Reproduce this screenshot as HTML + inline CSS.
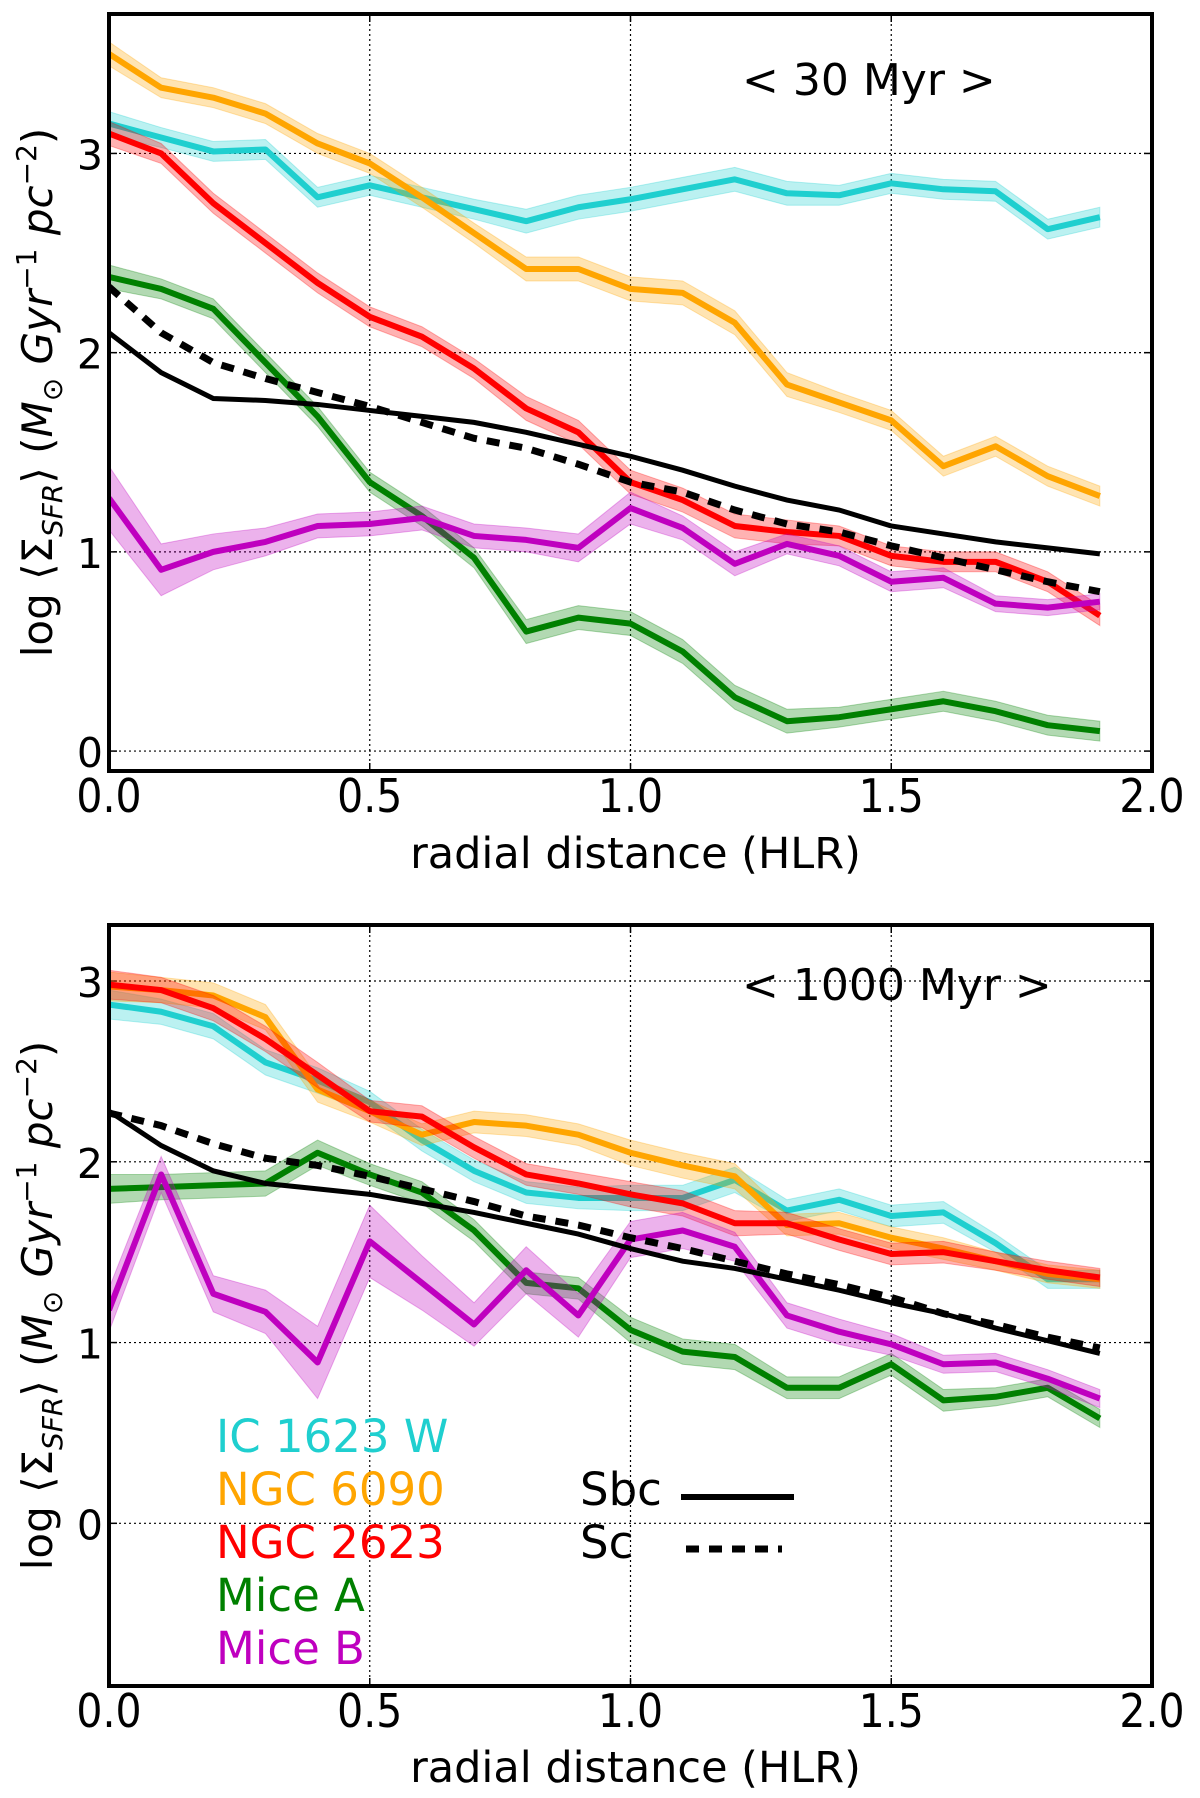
<!DOCTYPE html>
<html><head><meta charset="utf-8"><style>
html,body{margin:0;padding:0;background:#fff}
svg{display:block}
text{font-family:"DejaVu Sans","Liberation Sans",sans-serif}
</style></head><body>
<svg id="fig" width="1200" height="1798" viewBox="0 0 1200 1798" xmlns="http://www.w3.org/2000/svg"></svg>
<script>
const xs=[0,0.1,0.2,0.3,0.4,0.5,0.6,0.7,0.8,0.9,1.0,1.1,1.2,1.3,1.4,1.5,1.6,1.7,1.8,1.9];
const xTicks=[0,0.5,1.0,1.5,2.0];
const xTickLabels=["0.0","0.5","1.0","1.5","2.0"];
const yTicks=[0,1,2,3];
const seriesNames=["IC 1623 W","NGC 6090","NGC 2623","Mice A","Mice B"];
const seriesColors=["#1fcfcf","#ffa500","#ff0000","#008000","#bf00bf"];
// top panel (<30 Myr)
const topCyan=[3.15,3.08,3.01,3.02,2.78,2.84,2.78,2.72,2.66,2.73,2.77,2.82,2.87,2.80,2.79,2.85,2.82,2.81,2.62,2.68];
const topOrange=[3.5,3.33,3.28,3.2,3.05,2.95,2.78,2.6,2.42,2.42,2.32,2.30,2.15,1.84,1.75,1.66,1.43,1.53,1.38,1.28];
const topRed=[3.1,3.0,2.75,2.55,2.35,2.18,2.08,1.92,1.72,1.6,1.35,1.26,1.13,1.10,1.08,0.98,0.95,0.95,0.85,0.68];
const topGreen=[2.38,2.32,2.22,1.95,1.68,1.35,1.18,0.97,0.6,0.67,0.64,0.5,0.27,0.15,0.17,0.21,0.25,0.2,0.13,0.1];
const topMagenta=[1.27,0.91,1.0,1.05,1.13,1.14,1.17,1.08,1.06,1.02,1.22,1.12,0.94,1.04,0.98,0.85,0.87,0.74,0.72,0.75];
const topErr=[0.06,0.05,0.05,0.05,0.05,0.05,0.05,0.05,0.06,0.06,0.06,0.06,0.06,0.06,0.05,0.05,0.05,0.05,0.05,0.05];
const topMagErr=[0.16,0.13,0.09,0.07,0.06,0.06,0.06,0.06,0.06,0.07,0.08,0.06,0.06,0.05,0.05,0.05,0.05,0.04,0.04,0.04];
const topSbc=[2.1,1.9,1.77,1.76,1.74,1.71,1.68,1.65,1.60,1.54,1.48,1.41,1.33,1.26,1.21,1.13,1.09,1.05,1.02,0.99];
const topSc=[2.33,2.1,1.95,1.87,1.8,1.73,1.65,1.57,1.52,1.44,1.35,1.3,1.21,1.14,1.1,1.03,0.97,0.91,0.85,0.8];
// bottom panel (<1000 Myr)
const botCyan=[2.87,2.83,2.75,2.55,2.45,2.33,2.12,1.95,1.83,1.8,1.8,1.8,1.9,1.73,1.79,1.7,1.72,1.55,1.35,1.35];
const botOrange=[2.97,2.95,2.92,2.8,2.4,2.28,2.15,2.22,2.2,2.15,2.05,1.98,1.92,1.65,1.66,1.58,1.52,1.45,1.38,1.35];
const botRed=[2.98,2.95,2.85,2.68,2.48,2.28,2.25,2.08,1.93,1.88,1.82,1.77,1.66,1.66,1.57,1.49,1.5,1.45,1.4,1.36];
const botGreen=[1.85,1.86,1.87,1.88,2.05,1.93,1.83,1.62,1.33,1.3,1.07,0.95,0.92,0.75,0.75,0.88,0.68,0.7,0.75,0.58];
const botMagenta=[1.18,1.93,1.27,1.17,0.89,1.56,1.33,1.1,1.4,1.15,1.57,1.62,1.53,1.15,1.06,0.99,0.88,0.89,0.8,0.69];
const botErr=[0.08,0.07,0.07,0.07,0.07,0.06,0.06,0.06,0.06,0.06,0.07,0.07,0.07,0.06,0.06,0.06,0.06,0.05,0.05,0.05];
const botMagErr=[0.12,0.1,0.1,0.12,0.2,0.2,0.15,0.12,0.13,0.12,0.1,0.1,0.08,0.07,0.07,0.06,0.05,0.05,0.05,0.05];
const botSbc=[2.28,2.09,1.95,1.88,1.85,1.82,1.77,1.72,1.66,1.6,1.52,1.45,1.41,1.35,1.29,1.22,1.16,1.08,1.01,0.94];
const botSc=[2.27,2.2,2.1,2.02,1.98,1.92,1.85,1.78,1.7,1.65,1.58,1.52,1.45,1.38,1.32,1.25,1.16,1.1,1.03,0.97];

const NS="http://www.w3.org/2000/svg";
const svg=document.getElementById('fig');
function el(tag,attrs,parent,txt){const e=document.createElementNS(NS,tag);for(const k in attrs)e.setAttribute(k,attrs[k]);if(txt!==undefined)e.textContent=txt;(parent||svg).appendChild(e);return e;}

function panel(cfg){
  const L=109,R=1152,T=cfg.top,B=cfg.bottom;
  const g=el('g',{});
  
  
  const sx=v=>L+(v-0)/(2-0)*(R-L);
  const sy=v=>B-(v-cfg.ymin)/(cfg.ymax-cfg.ymin)*(B-T);
  xTicks.forEach((t,i)=>{
    if(i>0&&i<xTicks.length-1){const l=el('line',{x1:sx(t),x2:sx(t),y1:T,y2:B,stroke:'#000','stroke-width':1.2,'stroke-dasharray':'2,3'},g);
    }
    const tx=el('text',{x:sx(t),y:cfg.xlabY,'font-size':41,'text-anchor':'middle',transform:'translate(0,'+cfg.xlabY+') scale(1,1.12) translate(0,'+(-cfg.xlabY)+')'},g,xTickLabels[i]);
    
  });
  yTicks.forEach(t=>{
    const l=el('line',{x1:L,x2:R,y1:sy(t),y2:sy(t),stroke:'#000','stroke-width':1.2,'stroke-dasharray':'2,3'},g);
    
    const tx=el('text',{x:103,y:sy(t)+16,'font-size':41,'text-anchor':'end'},g,String(t));
    
    el('line',{x1:L,x2:L+8,y1:sy(t),y2:sy(t),stroke:'#000','stroke-width':1.5},g);
    el('line',{x1:R-8,x2:R,y1:sy(t),y2:sy(t),stroke:'#000','stroke-width':1.5},g);
  });
  const clipId='clip'+cfg.name;
  const cp=el('clipPath',{id:clipId},g);el('rect',{x:L,y:T,width:R-L,height:B-T},cp);
  const plot=el('g',{'clip-path':'url(#'+clipId+')'},g);
  cfg.series.forEach((s,i)=>{
    let up=xs.map((x,j)=>sx(x)+','+sy(s.v[j]+s.e[j])).join(' ');
    let dn=xs.map((x,j)=>sx(x)+','+sy(s.v[j]-s.e[j])).reverse().join(' ');
    const band=el('polygon',{points:up+' '+dn,fill:seriesColors[i],'fill-opacity':0.3,stroke:seriesColors[i],'stroke-opacity':0.3,'stroke-width':1},plot);
    
    
    const ln=el('polyline',{points:xs.map((x,j)=>sx(x)+','+sy(s.v[j])).join(' '),fill:'none',stroke:seriesColors[i],'stroke-width':6,'stroke-linejoin':'round'},plot);
    
    
  });
  const sbc=el('polyline',{points:xs.map((x,j)=>sx(x)+','+sy(cfg.sbc[j])).join(' '),fill:'none',stroke:'#000','stroke-width':5},plot);
  
  const sc=el('polyline',{points:xs.map((x,j)=>sx(x)+','+sy(cfg.sc[j])).join(' '),fill:'none',stroke:'#000','stroke-width':7,'stroke-dasharray':'13,10'},plot);
  
  xTicks.forEach(t=>{el('line',{x1:sx(t),x2:sx(t),y1:B,y2:B-8,stroke:'#000','stroke-width':1.5},g);el('line',{x1:sx(t),x2:sx(t),y1:T,y2:T+8,stroke:'#000','stroke-width':1.5},g);});
  const fr=el('rect',{x:L,y:T,width:R-L,height:B-T,fill:'none',stroke:'#000','stroke-width':4},g);
  
  const ti=el('text',{x:742,y:cfg.titleY,'font-size':44},g,cfg.title);
  
  const xl=el('text',{x:(L+R)/2+5,y:cfg.xtitleY,'font-size':43,'text-anchor':'middle'},g,'radial distance (HLR)');
  
  const cy=(T+B)/2;
  const yl=el('text',{x:0,y:0,transform:'translate(52,'+cy+') rotate(-90)','font-size':42,'text-anchor':'middle','font-family':'"DejaVu Serif","Liberation Serif",serif'},g);
  
  yl.innerHTML='log ⟨Σ<tspan font-style="italic" font-size="28" dy="10">SFR</tspan><tspan dy="-10">⟩ (</tspan><tspan font-style="italic">M</tspan><tspan font-size="28" dy="10">⊙</tspan><tspan dy="-10"> </tspan><tspan font-style="italic">Gyr</tspan><tspan font-size="28" dy="-16">−1</tspan><tspan dy="16">  </tspan><tspan font-style="italic">pc</tspan><tspan font-size="28" dy="-16">−2</tspan><tspan dy="16">)</tspan>';
  return {g,sx,sy};
}
panel({name:'panel-30myr',top:14,bottom:771,ymin:-0.1,ymax:3.7,xlabY:812,xtitleY:868,titleY:95,title:'< 30 Myr >',
  series:[{v:topCyan,e:topErr},{v:topOrange,e:topErr},{v:topRed,e:topErr},{v:topGreen,e:topErr},{v:topMagenta,e:topMagErr}],sbc:topSbc,sc:topSc});
panel({name:'panel-1000myr',top:925,bottom:1686,ymin:-0.9,ymax:3.31,xlabY:1727,xtitleY:1782,titleY:1000,title:'< 1000 Myr >',
  series:[{v:botCyan,e:botErr},{v:botOrange,e:botErr},{v:botRed,e:botErr},{v:botGreen,e:botErr},{v:botMagenta,e:botMagErr}],sbc:botSbc,sc:botSc});
const lg=el('g',{});


seriesNames.forEach((n,i)=>{
  const t=el('text',{x:216,y:1452+i*53,'font-size':45,fill:seriesColors[i]},lg,n);
  
  
});
const t1=el('text',{x:580,y:1505,'font-size':45},lg,'Sbc');


el('line',{x1:681,x2:794,y1:1497,y2:1497,stroke:'#000','stroke-width':6},lg);
const t2=el('text',{x:580,y:1558,'font-size':45},lg,'Sc');


el('line',{x1:686,x2:782,y1:1549,y2:1549,stroke:'#000','stroke-width':7,'stroke-dasharray':'13,10'},lg);
</script>
</body></html>
